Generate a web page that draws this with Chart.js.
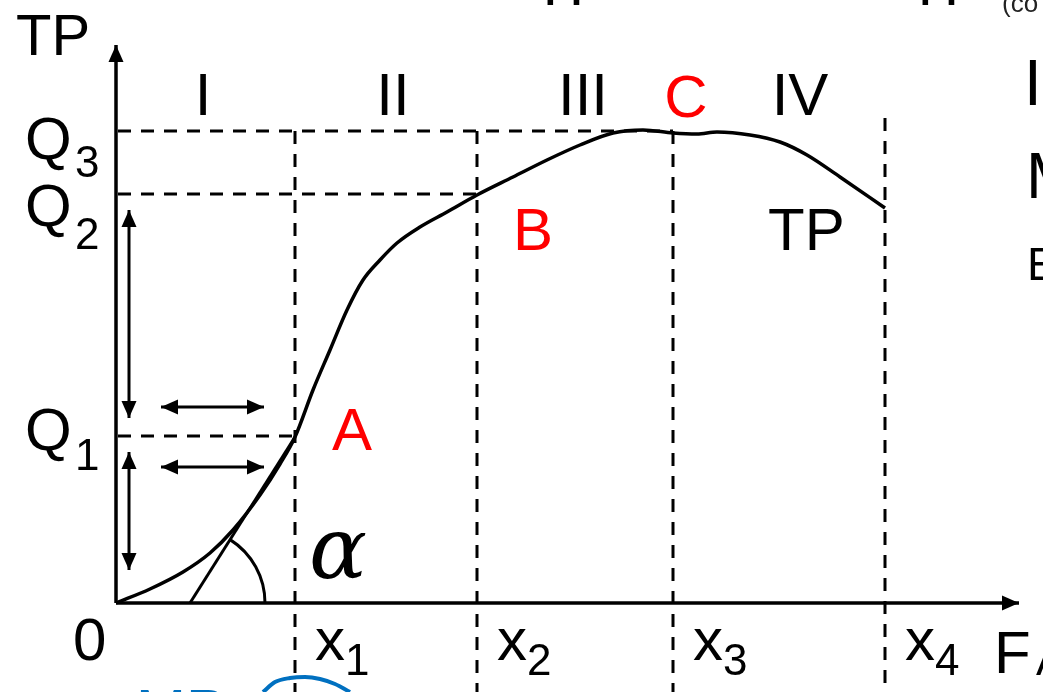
<!DOCTYPE html>
<html><head><meta charset="utf-8">
<style>html,body{margin:0;padding:0;background:#fff;overflow:hidden}canvas{display:block}</style>
<script src="https://cdn.jsdelivr.net/npm/chart.js@4.4.1/dist/chart.umd.min.js"></script>
</head><body>
<canvas id="c" width="1043" height="692"></canvas>
<script>
// ---- data (units; origin at 0) ----
const inputX       = [0, 34, 67, 94, 117, 144, 164, 179, 197, 214, 231, 247, 264, 281, 304, 331, 361, 397, 431, 464, 497, 527, 557, 581, 601, 634, 664, 691, 724, 769];
const totalProduct = [0, 14, 31, 50, 73, 108, 139, 166, 213, 253, 293, 323, 343, 360, 376, 391, 408, 426, 443, 458, 470, 473, 470, 469, 471, 468, 461, 448, 426, 395];
const stageBounds  = [179, 361, 557, 769];        // x1, x2, x3, x4
const outputLevels = [167, 409, 472];             // Q1, Q2, Q3
const stageLabels  = ['I', 'II', 'III', 'IV'];
const xTickNames   = ['1', '2', '3', '4'];
const qTickNames   = ['1', '2', '3'];
const tangentX     = [74, 179];
const tangentY     = [0, 166];
const mpX          = [147, 159, 174, 189, 204, 219, 234];
const mpY          = [-89, -79, -75, -74, -76, -81, -89];
const axisMax      = {x: 903, y: 558};

const pts = (xs, ys) => xs.map((x, i) => ({x, y: ys[i]}));
const seg = (x0, y0, x1, y1) => [{x: x0, y: y0}, {x: x1, y: y1}];

const base = {showLine: true, pointRadius: 0, pointHoverRadius: 0, fill: false, borderColor: '#000', tension: 0};
const dash = [13, 10];
const DW = 3;

const datasets = [
  // axes
  Object.assign({}, base, {data: seg(0, 0, 0, axisMax.y), borderWidth: 3.5, arrowEnd: true}),
  Object.assign({}, base, {data: seg(0, 0, axisMax.x, 0), borderWidth: 3.5, arrowEnd: true}),
  // horizontal dashed levels
  Object.assign({}, base, {data: seg(2, outputLevels[2], stageBounds[2], outputLevels[2]), borderWidth: DW, borderDash: dash}),
  Object.assign({}, base, {data: seg(2, outputLevels[1], stageBounds[1], outputLevels[1]), borderWidth: DW, borderDash: dash}),
  Object.assign({}, base, {data: seg(2, outputLevels[0], stageBounds[0], outputLevels[0]), borderWidth: DW, borderDash: dash}),
  // vertical dashed stage bounds
  Object.assign({}, base, {data: seg(stageBounds[0], outputLevels[2], stageBounds[0], -95), borderWidth: DW, borderDash: dash}),
  Object.assign({}, base, {data: seg(stageBounds[1], outputLevels[2], stageBounds[1], -95), borderWidth: DW, borderDash: dash}),
  Object.assign({}, base, {data: seg(stageBounds[2], outputLevels[2], stageBounds[2], -95), borderWidth: DW, borderDash: dash}),
  Object.assign({}, base, {data: seg(stageBounds[3], 485, stageBounds[3], -95), borderWidth: DW, borderDash: dash}),
  // tangent line
  Object.assign({}, base, {data: pts(tangentX, tangentY), borderWidth: 3}),
  // double arrows
  Object.assign({}, base, {data: seg(13, 393, 13, 185), borderWidth: 3, arrowEnd: true, arrowStart: true}),
  Object.assign({}, base, {data: seg(13, 151, 13, 33), borderWidth: 3, arrowEnd: true, arrowStart: true}),
  Object.assign({}, base, {data: seg(45, 196, 148, 196), borderWidth: 3, arrowEnd: true, arrowStart: true}),
  Object.assign({}, base, {data: seg(45, 136, 148, 136), borderWidth: 3, arrowEnd: true, arrowStart: true}),
  // TP curve
  Object.assign({}, base, {data: pts(inputX, totalProduct), borderWidth: 3.5, tension: 0.4, cubicInterpolationMode: 'monotone'}),
  // cut-off MP curve of the lower chart
  Object.assign({}, base, {data: pts(mpX, mpY), borderWidth: 4, borderColor: '#0070C0', tension: 0.4, cubicInterpolationMode: 'monotone'})
];

const SANS = '"Liberation Sans", Arial, sans-serif';

const arrowPlugin = {
  id: 'arrows',
  afterDatasetsDraw(chart) {
    const ctx = chart.ctx;
    chart.data.datasets.forEach((ds, i) => {
      if (!ds.arrowEnd && !ds.arrowStart) return;
      const el = chart.getDatasetMeta(i).data;
      const head = (tip, from) => {
        const a = Math.atan2(tip.y - from.y, tip.x - from.x);
        const L = 17, W = 7.5;
        ctx.save();
        ctx.fillStyle = ds.borderColor;
        ctx.beginPath();
        ctx.moveTo(tip.x, tip.y);
        ctx.lineTo(tip.x - L * Math.cos(a) + W * Math.sin(a), tip.y - L * Math.sin(a) - W * Math.cos(a));
        ctx.lineTo(tip.x - L * Math.cos(a) - W * Math.sin(a), tip.y - L * Math.sin(a) + W * Math.cos(a));
        ctx.closePath();
        ctx.fill();
        ctx.restore();
      };
      if (ds.arrowEnd) head(el[el.length - 1], el[el.length - 2]);
      if (ds.arrowStart) head(el[0], el[1]);
    });
  }
};

const labelPlugin = {
  id: 'labels',
  afterDatasetsDraw(chart) {
    const ctx = chart.ctx;
    const xs = chart.scales.x, ys = chart.scales.y;
    const X = v => xs.getPixelForValue(v), Y = v => ys.getPixelForValue(v);
    const t = (s, x, y, size, color, align, font) => {
      ctx.save();
      ctx.font = font || (size + 'px ' + SANS);
      ctx.fillStyle = color || '#000';
      ctx.textAlign = align || 'left';
      ctx.textBaseline = 'alphabetic';
      ctx.fillText(s, x, y);
      ctx.restore();
    };
    // angle arc at the tangent base
    const cx = X(tangentX[0]), cy = Y(tangentY[0]);
    const ang = Math.atan2(Y(tangentY[1]) - cy, X(tangentX[1]) - cx);
    ctx.save();
    ctx.strokeStyle = '#000'; ctx.lineWidth = 3;
    ctx.beginPath(); ctx.arc(cx, cy, 75, ang, 0); ctx.stroke();
    ctx.restore();

    // axis titles
    t('TP', 16, 55, 58);
    t('0', 73, 660, 60);
    t('F', 994, 673, 60);
    t('A', 1036, 675, 44);
    // stage numerals
    const stageCenters = [203, 393, 583, 800];
    stageLabels.forEach((s, i) => t(s, stageCenters[i], 115, 60, '#000', 'center'));
    t('C', 686, 117, 60, '#FF0000', 'center');
    // Q labels
    const qBase = [450, 226, 159], qSub = [470, 249, 177];
    qTickNames.forEach((s, i) => { t('Q', 25, qBase[i], 60); t(s, 75, qSub[i], 44); });
    // x labels
    stageBounds.forEach((b, i) => {
      const l = X(b) + 20;
      t('x', l, 660, 60);
      t(xTickNames[i], l + 30, 675, 44);
    });
    // point labels
    t('A', 332, 450, 60, '#FF0000');
    t('B', 513, 250, 60, '#FF0000');
    t('TP', 768, 250, 60);
    t('\u03B1', 309, 578, 0, '#000', 'left', 'italic 86px "DejaVu Serif", "Liberation Serif", serif');
    // cut-off neighbouring texts
    t('MP', 136, 731, 60, '#0070C0');
    t('TP', 532, 5, 60);
    t('TP', 907, 5, 60);
    t('(co', 1002, 12, 26, '#222');
    t('I', 1024, 105, 64);
    t('M', 1026, 198, 64);
    t('E', 1027, 280, 46);
  }
};

new Chart(document.getElementById('c'), {
  type: 'scatter',
  data: {datasets},
  options: {
    responsive: false,
    animation: false,
    devicePixelRatio: 1,
    layout: {padding: 0},
    events: [],
    plugins: {legend: {display: false}, tooltip: {enabled: false}, title: {display: false}},
    scales: {
      x: {type: 'linear', min: -116, max: 927, display: false},
      y: {type: 'linear', min: -89, max: 603, display: false}
    }
  },
  plugins: [arrowPlugin, labelPlugin]
});
</script>
</body></html>
